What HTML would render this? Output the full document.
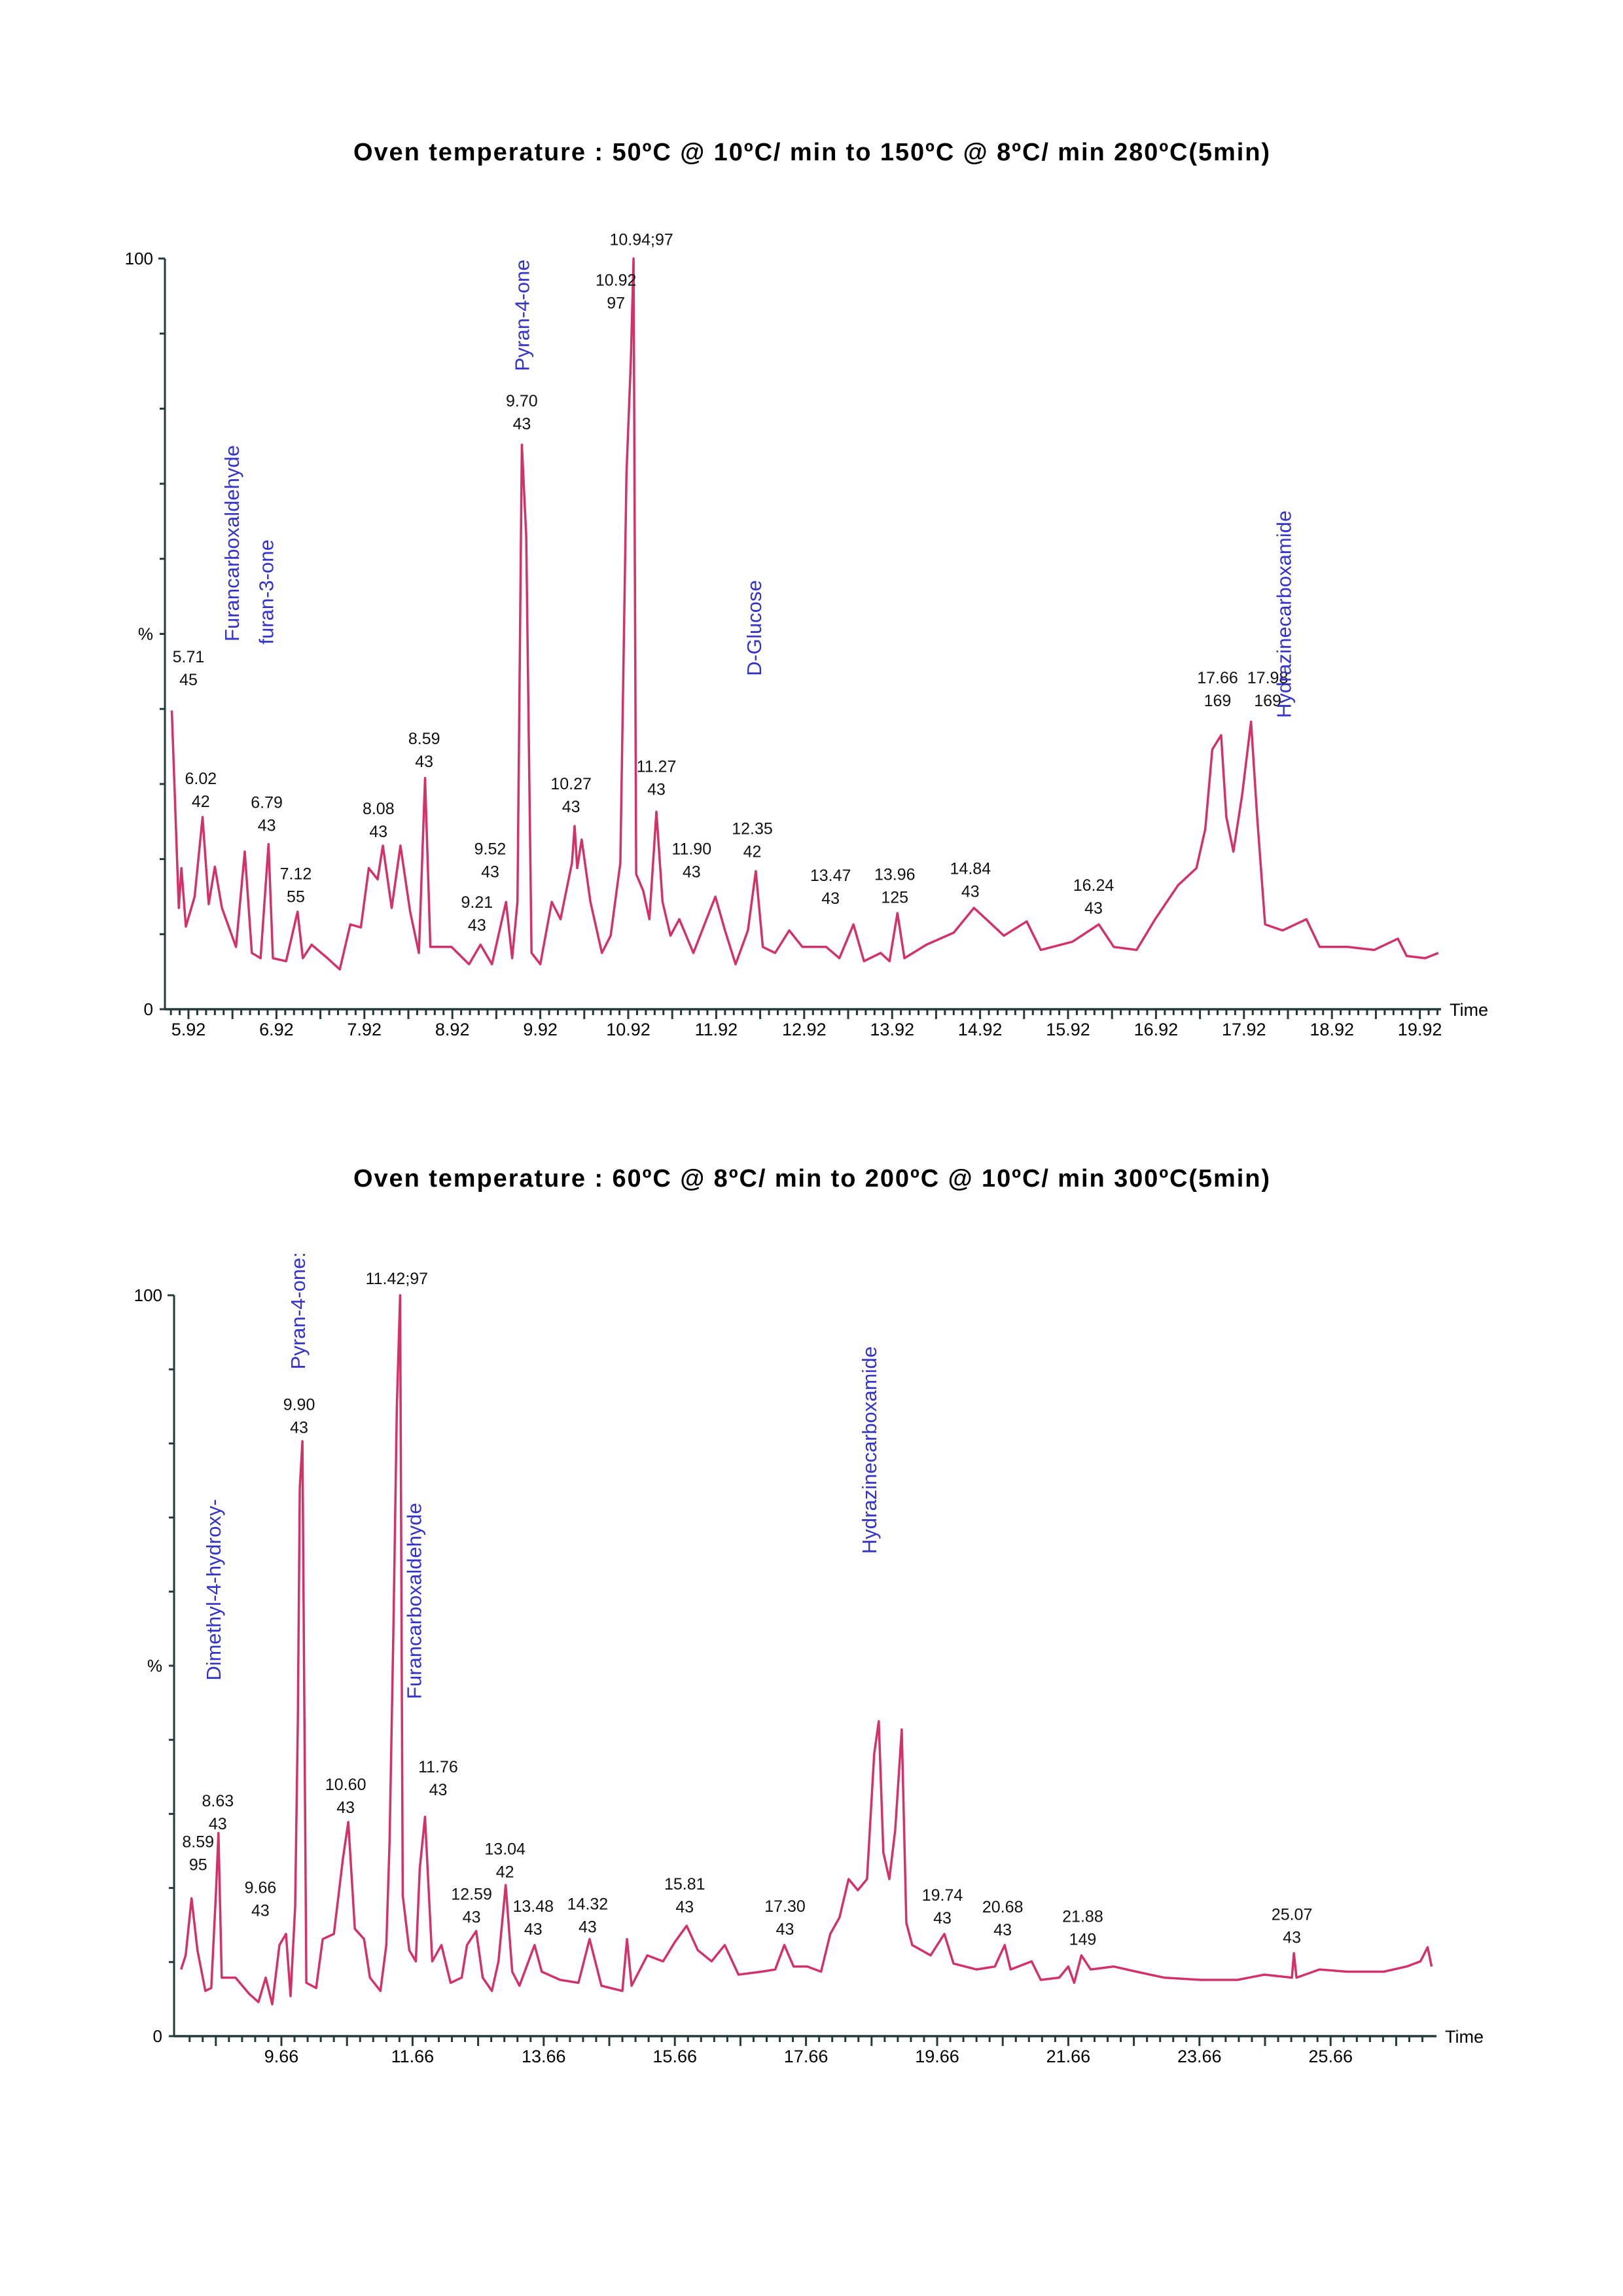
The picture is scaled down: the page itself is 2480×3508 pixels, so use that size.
<!DOCTYPE html>
<html><head><meta charset="utf-8"><style>
html,body{margin:0;padding:0;background:#fff;}
svg{display:block;}
.t{font-family:"Liberation Sans",sans-serif;}
</style></head><body>
<svg id="fig" width="2480" height="3508" viewBox="0 0 2480 3508" xmlns="http://www.w3.org/2000/svg">
<rect width="2480" height="3508" fill="#fff"/>
<text class="t" x="1240" y="245" text-anchor="middle" font-size="38" font-weight="bold" textLength="1400">Oven temperature : 50ºC @ 10ºC/ min to 150ºC @ 8ºC/ min 280ºC(5min)</text>
<text class="t" x="1240" y="1813" text-anchor="middle" font-size="38" font-weight="bold" textLength="1400">Oven temperature : 60ºC @ 8ºC/ min to 200ºC @ 10ºC/ min 300ºC(5min)</text>
<g id="c1"></g>
<g id="c2"></g>
</svg>
<script>
// ---- Top chart data ----
const topTimes=[5.73,5.81,5.84,5.89,5.99,6.08,6.15,6.22,6.3,6.46,6.56,6.64,6.74,6.83,6.88,7.03,7.16,7.22,7.32,7.5,7.64,7.76,7.88,7.97,8.07,8.13,8.23,8.33,8.44,8.54,8.61,8.67,8.91,9.11,9.24,9.37,9.53,9.6,9.66,9.71,9.76,9.82,9.92,10.05,10.15,10.28,10.31,10.34,10.39,10.49,10.62,10.72,10.83,10.9,10.95,10.98,11.01,11.09,11.16,11.24,11.31,11.4,11.5,11.66,11.81,11.91,12.02,12.14,12.28,12.37,12.45,12.59,12.75,12.9,13.17,13.32,13.48,13.6,13.79,13.89,13.98,14.06,14.31,14.62,14.85,14.99,15.19,15.45,15.61,15.97,16.27,16.44,16.7,16.91,17.17,17.38,17.48,17.56,17.66,17.72,17.8,17.9,18,18.07,18.16,18.36,18.63,18.78,19.1,19.4,19.67,19.77,19.98,20.13];
const topValues=[39.8,13.5,18.8,11,15,25.6,14,19,13.5,8.3,21,7.5,6.8,22,6.8,6.4,13,6.8,8.6,6.8,5.3,11.3,10.9,18.8,17.3,21.8,13.5,21.8,13,7.5,30.8,8.3,8.3,6,8.6,6,14.3,6.8,14.3,75.2,63,7.5,6,14.3,12,19.5,24.4,18.8,22.6,14.3,7.5,9.8,19.5,71.4,86.5,100,18,15.8,12,26.3,14.3,9.8,12,7.5,12,15,10.5,6,10.5,18.4,8.3,7.5,10.5,8.3,8.3,6.8,11.3,6.4,7.5,6.4,12.8,6.8,8.6,10.2,13.5,12,9.8,11.7,7.9,9,11.3,8.3,7.9,12,16.5,18.8,24,34.6,36.5,25.6,21,28.6,38.3,25.6,11.3,10.5,12,8.3,8.3,7.9,9.4,7.1,6.8,7.5];
const topTickLabels=["5.92","6.92","7.92","8.92","9.92","10.92","11.92","12.92","13.92","14.92","15.92","16.92","17.92","18.92","19.92"];
const topPeakLabels=[["5.71","45",5.92,46.2],["6.02","42",6.06,30],["6.79","43",6.81,26.8],["7.12","55",7.14,17.3],["8.08","43",8.08,26],["8.59","43",8.6,35.3],["9.21","43",9.2,13.5],["9.52","43",9.35,20.6],["9.70","43",9.71,80.3],["10.92","97",10.78,96.4],["10.94;97","",11.07,101.8],["10.27","43",10.27,29.3],["11.27","43",11.24,31.6],["11.90","43",11.64,20.6],["12.35","42",12.33,23.3],["13.47","43",13.22,17.1],["13.96","125",13.95,17.2],["14.84","43",14.81,18],["16.24","43",16.21,15.8],["17.66","169",17.62,43.4],["17.98","169",18.19,43.4]];
const topNames=[["Furancarboxaldehyde",6.41,49],["furan-3-one",6.8,48.6],["Pyran-4-one",9.71,85],["D-Glucose",12.35,44.4],["Hydrazinecarboxamide",18.37,38.8]];
// ---- Bottom chart data ----
const botTimes=[8.13,8.2,8.29,8.38,8.5,8.59,8.66,8.7,8.75,8.96,9.17,9.31,9.42,9.52,9.63,9.73,9.8,9.87,9.91,9.94,9.98,10.04,10.19,10.29,10.46,10.6,10.68,10.78,10.92,11.01,11.17,11.26,11.31,11.37,11.42,11.47,11.51,11.61,11.71,11.77,11.85,11.96,12.1,12.24,12.41,12.49,12.63,12.73,12.87,12.97,13.08,13.18,13.29,13.52,13.63,13.91,14.19,14.36,14.54,14.86,14.93,15,15.24,15.48,15.66,15.84,16.01,16.22,16.42,16.63,16.98,17.19,17.33,17.47,17.68,17.89,18.03,18.17,18.31,18.45,18.59,18.7,18.77,18.84,18.93,19.02,19.12,19.19,19.28,19.42,19.56,19.77,19.91,20.26,20.54,20.69,20.78,21.1,21.24,21.52,21.66,21.75,21.86,22,22.35,22.7,23.12,23.68,24.24,24.65,25.07,25.1,25.14,25.49,25.91,26.47,26.82,27.03,27.14,27.2];
const botValues=[9,10.9,18.6,11.6,6.1,6.5,19,27.4,7.9,7.9,5.7,4.6,7.9,4.3,12.3,13.8,5.4,17.5,42.5,74,80.3,7.2,6.5,13.1,13.8,24.1,28.9,14.5,13.1,7.9,6.1,12.3,26.3,55.7,85,100,19,11.6,10.1,22.6,29.6,10.1,12.3,7.2,7.9,12.3,14.2,7.9,6.1,10.1,20.4,8.7,6.8,12.3,8.7,7.6,7.2,13.1,6.8,6.1,13.1,6.8,10.9,10.1,12.7,14.9,11.6,10.1,12.3,8.3,8.7,9,12.3,9.4,9.4,8.7,13.8,16,21.2,19.7,21.2,38.1,42.5,24.8,21.2,27.8,41.4,15.3,12.3,11.6,10.9,13.8,9.8,9,9.4,12.3,9,10.1,7.6,7.9,9.4,7.2,10.9,9,9.4,8.7,7.9,7.6,7.6,8.3,7.9,11.2,7.9,9,8.7,8.7,9.4,10.1,12,9.4];
const botTickLabels=["9.66","11.66","13.66","15.66","17.66","19.66","21.66","23.66","25.66"];
const botPeakLabels=[["8.59","95",8.39,25.5],["8.63","43",8.69,31],["9.66","43",9.34,19.3],["9.90","43",9.93,84.5],["11.42;97","",11.42,101.5],["10.60","43",10.64,33.2],["11.76","43",12.05,35.6],["12.59","43",12.56,18.4],["13.04","42",13.07,24.5],["13.48","43",13.5,16.8],["14.32","43",14.33,17.1],["15.81","43",15.81,19.8],["17.30","43",17.34,16.8],["19.74","43",19.74,18.3],["20.68","43",20.66,16.7],["21.88","149",21.88,15.4],["25.07","43",25.07,15.7]];
const botNames=[["Dimethyl-4-hydroxy-",8.62,48],["Pyran-4-one:",9.91,90],["Furancarboxaldehyde",11.68,45.5],["Hydrazinecarboxamide",18.62,65.1]];

const NS="http://www.w3.org/2000/svg";
function mk(parent,tag,attrs,txt){const e=document.createElementNS(NS,tag);for(const k in attrs)e.setAttribute(k,attrs[k]);if(txt!==undefined)e.textContent=txt;parent.appendChild(e);return e;}

function draw(gid,cfg,times,vals,ticks,peaks,names,pfx){
  const g=document.getElementById(gid);
  const X=t=>cfg.x0+(t-cfg.t0)*cfg.ppm;
  const Y=p=>cfg.y0-(cfg.y0-cfg.y100)*p/100;
  const ya=mk(g,'line',{x1:cfg.ax,y1:Y(100),x2:cfg.ax,y2:Y(0),stroke:'#243a3a','stroke-width':3});
  
  
  const xa=mk(g,'line',{x1:cfg.ax,y1:Y(0),x2:cfg.axEnd,y2:Y(0),stroke:'#243a3a','stroke-width':3.5});
  
  
  for(let p=0;p<=100;p+=10){
    const tk=mk(g,'line',{x1:cfg.ax-(p===100?10:8),y1:Y(p),x2:cfg.ax,y2:Y(p),stroke:'#243a3a','stroke-width':3});
    
    
  }
  [["100",100],["%",50],["0",0]].forEach(a=>{
    const tl=mk(g,'text',{x:cfg.ax-18,y:Y(a[1])+9,'text-anchor':'end','font-size':26,class:'t'},a[0]);
    
    
  });
  const n0=Math.ceil((cfg.ax+4-cfg.x0)/(cfg.ppm*cfg.step));
  for(let i=n0;;i++){
    const t=cfg.t0+i*cfg.step, x=X(t);
    if(x>cfg.axEnd-4)break;
    const big=(((i%cfg.longEvery)+cfg.longEvery)%cfg.longEvery)===0;
    const tk=mk(g,'line',{x1:x,y1:Y(0),x2:x,y2:Y(0)+(big?15:9),stroke:'#243a3a','stroke-width':3});
    
    
  }
  ticks.forEach(l=>{
    const tl=mk(g,'text',{x:X(parseFloat(l)),y:Y(0)+40,'text-anchor':'middle','font-size':27,class:'t'},l);
    
    
  });
  const tt=mk(g,'text',{x:cfg.axEnd+13,y:Y(0)+10,'font-size':27,class:'t'},'Time');
  
  
  let d='';times.forEach((t,i)=>{d+=(i?'L':'M')+X(t).toFixed(1)+' '+Y(vals[i]).toFixed(1);});
  const tr=mk(g,'path',{d:d,fill:'none',stroke:'#d4306a','stroke-width':3.5,'stroke-linejoin':'round'});
  
  
  peaks.forEach(p=>{
    const el=mk(g,'text',{x:X(p[2]),y:Y(p[3]),'text-anchor':'middle','font-size':25,class:'t',fill:'#111'},p[0]);
    
    
    if(p[1]){
      const el2=mk(g,'text',{x:X(p[2]),y:Y(p[3])+35,'text-anchor':'middle','font-size':25,class:'t',fill:'#111'},p[1]);
      
      
    }
  });
  names.forEach(n=>{
    const x=X(n[1]),y=Y(n[2]);
    const el=mk(g,'text',{x:x+11,y:y,transform:'rotate(-90 '+(x+11)+' '+y+')','font-size':31,class:'t',fill:'#3333cc'},n[0]);
    
    
  });
}
draw('c1',{x0:288,t0:5.92,ppm:134.4,y0:1542,y100:395,ax:252,axEnd:2202,step:0.1,longEvery:5},topTimes,topValues,topTickLabels,topPeakLabels,topNames,'top');
draw('c2',{x0:430,t0:9.66,ppm:100.2,y0:3111,y100:1979,ax:266,axEnd:2195,step:0.2,longEvery:5},botTimes,botValues,botTickLabels,botPeakLabels,botNames,'bottom');
</script>
</body></html>
